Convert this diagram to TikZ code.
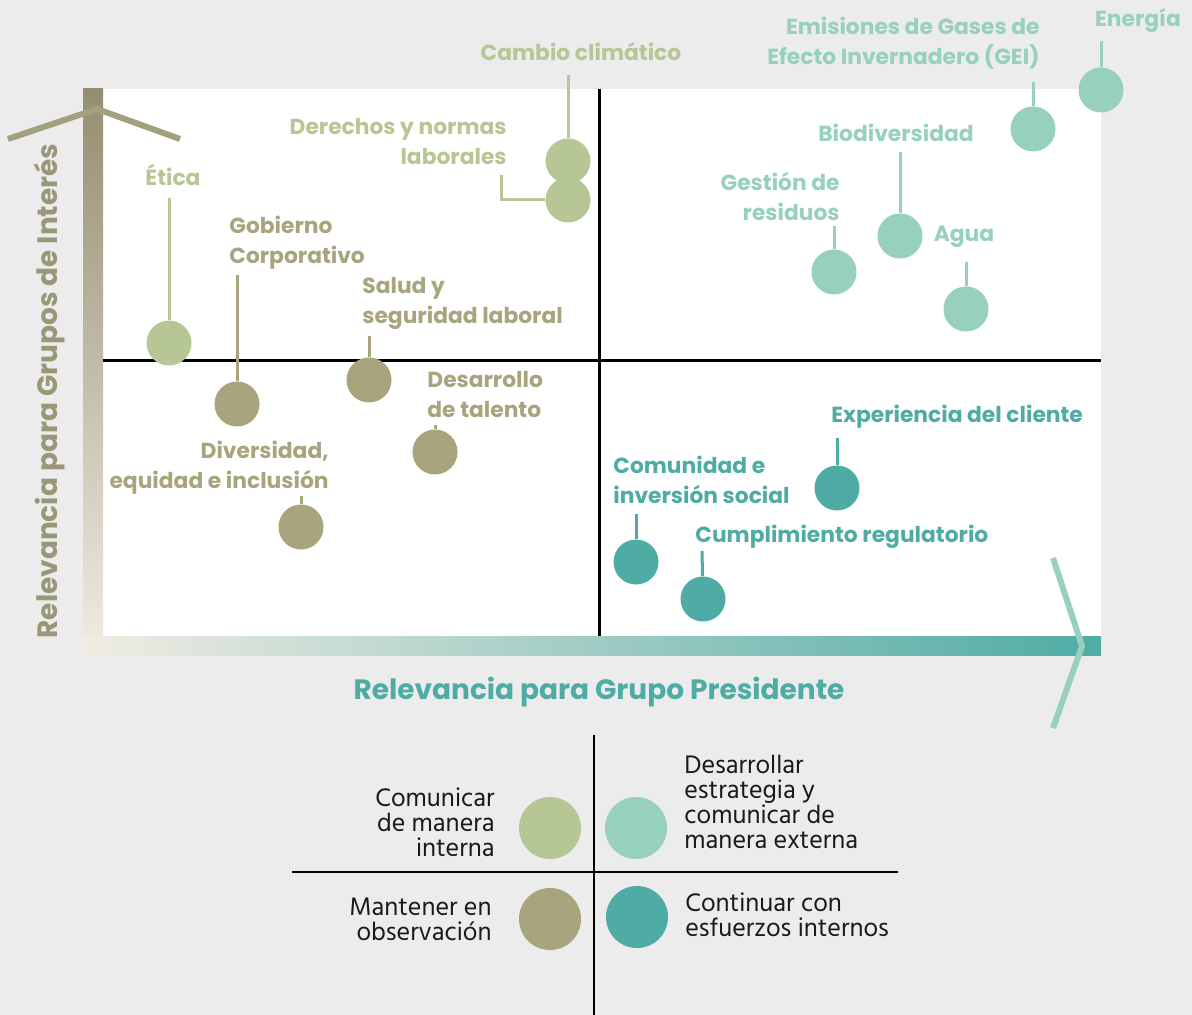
\documentclass[tikz,border=0pt]{standalone}
\usepackage{fontspec}
\setmainfont{Poppins}
\newfontfamily\legendfont{Hind Madurai}

\definecolor{bggray}{HTML}{ECECEC}
\definecolor{ltgreen}{HTML}{B6C795}
\definecolor{mint}{HTML}{97D0BC}
\definecolor{khaki}{HTML}{A8A47E}
\definecolor{tealdot}{HTML}{4FACA5}
\definecolor{axisdark}{HTML}{948E71}
\definecolor{axislight}{HTML}{F0ECE3}
\definecolor{chevolive}{HTML}{A3A07F}
\definecolor{titleolive}{HTML}{9A9779}
\definecolor{inkblack}{HTML}{1A1A1A}

\tikzstyle{dot}       = [circle, minimum size=22.5pt, inner sep=0pt]
\tikzstyle{stem}      = [line width=1.5pt]
\tikzstyle{lbl}       = [font=\bfseries\fontsize{10.9}{15}\selectfont, inner sep=0pt]
\tikzstyle{axtitle}   = [font=\bfseries\fontsize{14}{16}\selectfont, inner sep=0pt]
\tikzstyle{legenddot} = [circle, minimum size=31pt, inner sep=0pt]
\tikzstyle{keytext}   = [font=\legendfont\fontsize{13}{12.5}\selectfont, text=inkblack, inner sep=0pt]

\begin{document}
\begin{tikzpicture}[x=0.5pt,y=-0.5pt]
  \useasboundingbox (0,0) rectangle (1192,1015);
  \fill[bggray] (0,0) rectangle (1192,1015);
  \fill[white] (103,89) rectangle (1101,636);

  % axis bars
  \shade[top color=axisdark, bottom color=axislight] (83,89) rectangle (103,655);
  \shade[left color=axislight, right color=tealdot] (83,636) rectangle (1101,655);
  \draw[line width=1.5pt] (599,89) -- (599,636);
  \draw[line width=1.5pt] (103,361) -- (1101,361);
  \draw[chevolive, line width=3pt] (8,139) -- (97,109) -- (180,139);
  \draw[mint, line width=3pt] (1053,558) -- (1082,646) -- (1053,728);

  \node at (50,391) (ytitle) [axtitle,rotate=90,text=titleolive] {Relevancia para Grupos de Interés};
  \node at (599,692) (xtitle) [axtitle,text=tealdot] {Relevancia para Grupo Presidente};

  % topics
  \node at (568,161) (cambio)       [dot,fill=ltgreen] {};
  \node at (568,200) (derechos)     [dot,fill=ltgreen] {};
  \node at (169,343) (etica)        [dot,fill=ltgreen] {};
  \node at (237,404) (gobierno)     [dot,fill=khaki] {};
  \node at (369,380) (salud)        [dot,fill=khaki] {};
  \node at (435,452) (desarrollo)   [dot,fill=khaki] {};
  \node at (301,527) (diversidad)   [dot,fill=khaki] {};
  \node at (1033,129) (emisiones)   [dot,fill=mint] {};
  \node at (1101,90) (energia)      [dot,fill=mint] {};
  \node at (900,236) (biodiv)       [dot,fill=mint] {};
  \node at (834,272) (gestion)      [dot,fill=mint] {};
  \node at (966,309) (agua)         [dot,fill=mint] {};
  \node at (837,488) (experiencia)  [dot,fill=tealdot] {};
  \node at (636,562) (comunidad)    [dot,fill=tealdot] {};
  \node at (703,599) (cumplimiento) [dot,fill=tealdot] {};

  \coordinate (cambio-top) at (568,75);
  \coordinate (derechos-top) at (501,175);
  \coordinate (etica-top) at (169,198);
  \coordinate (gobierno-top) at (237,275);
  \coordinate (salud-top) at (369,336);
  \coordinate (desarrollo-top) at (435,425);
  \coordinate (diversidad-top) at (301,496);
  \coordinate (emisiones-top) at (1033,82);
  \coordinate (energia-top) at (1101,41);
  \coordinate (biodiv-top) at (900,152);
  \coordinate (gestion-top) at (834,226);
  \coordinate (agua-top) at (966,262);
  \coordinate (experiencia-top) at (837,438);
  \coordinate (comunidad-top) at (636,514);
  \coordinate (cumplimiento-top) at (702,551);

  \draw[stem,ltgreen] (cambio-top) -- (cambio);
  \draw[stem,ltgreen] (derechos-top) |- (derechos);
  \draw[stem,ltgreen] (etica-top) -- (etica);
  \draw[stem,khaki] (gobierno-top) -- (gobierno);
  \draw[stem,khaki] (salud-top) -- (salud);
  \draw[stem,khaki] (desarrollo-top) -- (desarrollo);
  \draw[stem,khaki] (diversidad-top) -- (diversidad);
  \draw[stem,mint] (emisiones-top) -- (emisiones);
  \draw[stem,mint] (energia-top) -- (energia);
  \draw[stem,mint] (biodiv-top) -- (biodiv);
  \draw[stem,mint] (gestion-top) -- (gestion);
  \draw[stem,mint] (agua-top) -- (agua);
  \draw[stem,tealdot] (experiencia-top) -- (experiencia);
  \draw[stem,tealdot] (comunidad-top) -- (comunidad);
  \draw[stem,tealdot] (cumplimiento-top) -- (cumplimiento);

  \node at (581,52) (cambio-lbl) [lbl,text=ltgreen] {Cambio climático};
  \node at (507,142) (derechos-lbl) [lbl,text=ltgreen,anchor=east,align=right] {Derechos y normas\\laborales};
  \node at (173,175) (etica-lbl) [lbl,text=ltgreen] {Ética};
  \node at (229,243) (gobierno-lbl) [lbl,text=khaki,anchor=west,align=left] {Gobierno\\Corporativo};
  \node at (362,303) (salud-lbl) [lbl,text=khaki,anchor=west,align=left] {Salud y\\seguridad laboral};
  \node at (427,395) (desarrollo-lbl) [lbl,text=khaki,anchor=west,align=left] {Desarrollo\\de talento};
  \node at (329,468) (diversidad-lbl) [lbl,text=khaki,anchor=east,align=right] {Diversidad,\\equidad e inclusión};
  \node at (1040,43) (emisiones-lbl) [lbl,text=mint,anchor=east,align=right] {Emisiones de Gases de\\Efecto Invernadero (GEI)};
  \node at (1138,20) (energia-lbl) [lbl,text=mint] {Energía};
  \node at (896,133) (biodiv-lbl) [lbl,text=mint] {Biodiversidad};
  \node at (840,197) (gestion-lbl) [lbl,text=mint,anchor=east,align=right] {Gestión de\\residuos};
  \node at (964,237) (agua-lbl) [lbl,text=mint] {Agua};
  \node at (831,417) (experiencia-lbl) [lbl,text=tealdot,anchor=west] {Experiencia del cliente};
  \node at (613,480) (comunidad-lbl) [lbl,text=tealdot,anchor=west,align=left] {Comunidad e\\inversión social};
  \node at (695,537) (cumplimiento-lbl) [lbl,text=tealdot,anchor=west] {Cumplimiento regulatorio};

  % legend
  \draw[line width=1pt] (594,735) -- (594,1015);
  \draw[line width=1pt] (292,872) -- (898,872);
  \node at (550,828) (k-interna)  [legenddot,fill=ltgreen] {};
  \node at (636,828) (k-externa)  [legenddot,fill=mint] {};
  \node at (550,919) (k-observa)  [legenddot,fill=khaki] {};
  \node at (637,917) (k-esfuerzo) [legenddot,fill=tealdot] {};
  \node at (495,822) (t-interna)  [keytext,anchor=east,align=right] {Comunicar\\de manera\\interna};
  \node at (492,919) (t-observa)  [keytext,anchor=east,align=right] {Mantener en\\observación};
  \node at (684,802) (t-externa)  [keytext,anchor=west,align=left] {Desarrollar\\estrategia y\\comunicar de\\manera externa};
  \node at (685,915) (t-esfuerzo) [keytext,anchor=west,align=left] {Continuar con\\esfuerzos internos};
\end{tikzpicture}
\end{document}
